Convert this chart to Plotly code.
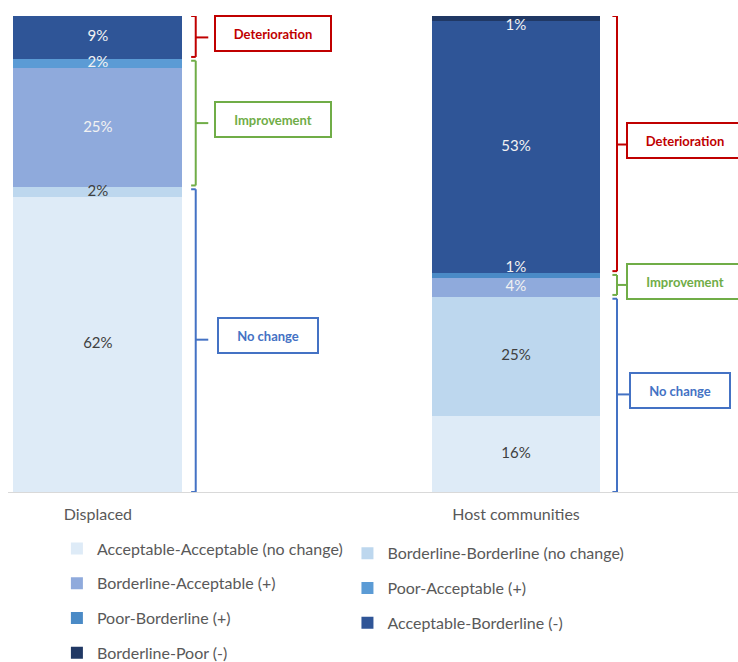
import plotly.graph_objects as go

categories = ["Displaced", "Host communities"]
series_names = [
    "Acceptable-Acceptable (no change)",
    "Borderline-Borderline (no change)",
    "Borderline-Acceptable (+)",
    "Poor-Acceptable (+)",
    "Poor-Borderline (+)",
    "Acceptable-Borderline (-)",
    "Borderline-Poor (-)",
]
acceptable_acceptable = [62, 16]
borderline_borderline = [2, 25]
borderline_acceptable = [25, 4]
poor_acceptable = [2, 0]
poor_borderline = [0, 1]
acceptable_borderline = [9, 53]
borderline_poor = [0, 1]

series_values = [acceptable_acceptable, borderline_borderline, borderline_acceptable,
                 poor_acceptable, poor_borderline, acceptable_borderline, borderline_poor]
colors = ["#DEEBF7", "#BDD7EE", "#8FAADC", "#5B9BD5", "#4A8AC6", "#2F5597", "#203864"]
text_colors = ["#404040", "#404040", "#F2F2F2", "#F2F2F2", "#F2F2F2", "#F2F2F2", "#F2F2F2"]
text_pos = ["middle center", "middle center", "middle center", "middle center",
            "top center", "middle center", "bottom center"]
legend_ids = ["legend", "legend2", "legend", "legend2", "legend", "legend2", "legend"]

# group definitions (indices of series)
groups = [
    ("No change", [0, 1], "#4472C4"),
    ("Improvement", [2, 3, 4], "#70AD47"),
    ("Deterioration", [5, 6], "#C00000"),
]

FONT = "Lato"
xpos = [0, 1]

fig = go.Figure()
for i, (name, vals) in enumerate(zip(series_names, series_values)):
    fig.add_trace(go.Bar(
        x=xpos, y=vals, name=name,
        marker=dict(color=colors[i], line=dict(width=0)),
        width=0.404,
        legend=legend_ids[i], legendgroup=name,
        hoverinfo="skip",
    ))

# data labels drawn on top of all bars
base = [0, 0]
for i, vals in enumerate(series_values):
    centers = [base[c] + vals[c] / 2 for c in range(2)]
    base = [base[c] + vals[c] for c in range(2)]
    fig.add_trace(go.Scatter(
        x=xpos, y=centers, mode="text",
        text=[f"{v}%" if v > 0 else "" for v in vals],
        textposition=text_pos[i],
        textfont=dict(color=text_colors[i], size=15, family=FONT),
        showlegend=False, hoverinfo="skip", cliponaxis=False,
    ))

# brackets and boxes
shapes = []
annotations = []
bracket_x = [0.234, 1.2416]
box_x = [0.42, 1.405]
for ci in range(len(categories)):
    bottom = 0
    for gname, idxs, col in groups:
        total = sum(series_values[k][ci] for k in idxs)
        lo, hi = bottom, bottom + total
        bottom = hi
        y0 = lo + (0.4 if lo > 0 else 0)
        y1 = hi - (0.4 if hi < 100 else 0)
        xv = bracket_x[ci]
        xh = xv - 0.011
        xt = xv + 0.03 if ci == 0 else xv + 0.05
        line = dict(color=col, width=2)
        shapes += [
            dict(type="line", xref="x", yref="y", x0=xh, x1=xv, y0=y1, y1=y1, line=line),
            dict(type="line", xref="x", yref="y", x0=xv, x1=xv, y0=y0, y1=y1, line=line),
            dict(type="line", xref="x", yref="y", x0=xh, x1=xv, y0=y0, y1=y0, line=line),
            dict(type="line", xref="x", yref="y", x0=xv, x1=xt, y0=(lo + hi) / 2, y1=(lo + hi) / 2, line=line),
        ]
        w = 96 if gname == "No change" else 112
        bx = box_x[ci] - (0.012 if gname == "No change" else 0)
        annotations.append(dict(
            x=bx, y=(lo + hi) / 2 + 0.8, xref="x", yref="y",
            text=f"<b>{gname}</b>", showarrow=False,
            font=dict(color=col, size=13, family=FONT),
            bordercolor=col, borderwidth=2, bgcolor="white",
            width=w, height=31, align="center",
        ))

fig.update_layout(
    width=738, height=662,
    margin=dict(l=8, r=0, t=16, b=170, autoexpand=False),
    paper_bgcolor="white", plot_bgcolor="white",
    barmode="stack",
    bargap=0,
    font=dict(family=FONT, color="#595959", size=15),
    xaxis=dict(
        range=[-0.215, 1.531], tickvals=xpos, ticktext=categories,
        showgrid=False, zeroline=False, showline=True, linecolor="#D9D9D9", linewidth=1,
        ticks="outside", ticklen=8, tickcolor="rgba(0,0,0,0)",
        tickfont=dict(size=16, color="#595959", family=FONT),
    ),
    yaxis=dict(range=[0, 100], visible=False),
    legend=dict(
        x=0.067, y=-0.083, xanchor="left", yanchor="top", orientation="v",
        traceorder="grouped", tracegroupgap=11,
        font=dict(size=16, color="#595959", family=FONT),
        bgcolor="rgba(0,0,0,0)", itemwidth=30,
    ),
    legend2=dict(
        x=0.465, y=-0.093, xanchor="left", yanchor="top", orientation="v",
        traceorder="grouped", tracegroupgap=11,
        font=dict(size=16, color="#595959", family=FONT),
        bgcolor="rgba(0,0,0,0)", itemwidth=30,
    ),
    shapes=shapes,
    annotations=annotations,
)

fig.write_html("out.html")
